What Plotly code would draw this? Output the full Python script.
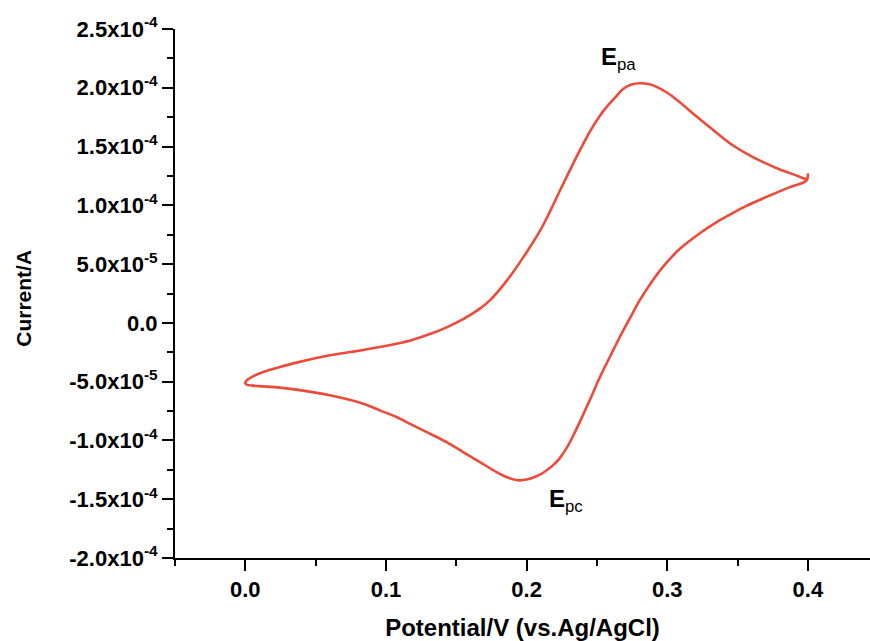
import plotly.graph_objects as go

# Potential (V vs Ag/AgCl): scan starts at 0.4 V, sweeps negative to 0 V, then back to 0.4 V
potential = [0.4000, 0.3991, 0.3872, 0.3730, 0.3564, 0.3445, 0.3349, 0.3232, 0.3090, 0.2971,
             0.2876, 0.2805, 0.2734, 0.2663, 0.2592, 0.2521, 0.2450, 0.2393, 0.2343, 0.2293,
             0.2236, 0.2189, 0.2118, 0.2071, 0.2000, 0.1938, 0.1857, 0.1786, 0.1668, 0.1549,
             0.1431, 0.1312, 0.1193, 0.1075, 0.0956, 0.0838, 0.0601, 0.0364, 0.0245, 0.0127,
             0.0055, 0.0009, 0.0000,
             0.0009, 0.0055, 0.0127, 0.0245, 0.0364, 0.0601, 0.0838, 0.1075, 0.1193, 0.1312,
             0.1431, 0.1549, 0.1668, 0.1739, 0.1857, 0.1975, 0.2094, 0.2165, 0.2213, 0.2284,
             0.2331, 0.2402, 0.2449, 0.2520, 0.2568, 0.2639, 0.2686, 0.2746, 0.2805, 0.2876,
             0.2924, 0.2995, 0.3042, 0.3090, 0.3209, 0.3327, 0.3445, 0.3564, 0.3682, 0.3801,
             0.3920, 0.3979, 0.4000]
# Current in units of 1e-5 A
current_e5 = [12.72, 12.12, 11.55, 10.84, 9.95, 9.20, 8.55, 7.62, 6.30, 4.78,
              3.25, 1.93, 0.38, -1.20, -2.90, -4.62, -6.55, -8.05, -9.32, -10.48,
              -11.50, -12.10, -12.75, -13.05, -13.33, -13.39, -13.11, -12.69, -11.84, -10.99,
              -10.14, -9.42, -8.72, -8.01, -7.44, -6.87, -6.16, -5.68, -5.51, -5.40,
              -5.34, -5.25, -5.12,
              -4.89, -4.55, -4.18, -3.76, -3.38, -2.76, -2.30, -1.77, -1.43, -0.95,
              -0.38, 0.32, 1.21, 1.91, 3.55, 5.55, 7.80, 9.45, 10.65, 12.40,
              13.55, 15.20, 16.25, 17.60, 18.35, 19.30, 19.90, 20.28, 20.39, 20.30,
              20.08, 19.62, 19.22, 18.77, 17.55, 16.40, 15.28, 14.40, 13.67, 13.05,
              12.54, 12.26, 12.30]
current = [v * 1e-5 for v in current_e5]

y_tick_vals = [2.5e-4, 2.0e-4, 1.5e-4, 1.0e-4, 5.0e-5, 0.0, -5.0e-5, -1.0e-4, -1.5e-4, -2.0e-4]
y_tick_text = ["2.5x10<sup>-4</sup>", "2.0x10<sup>-4</sup>", "1.5x10<sup>-4</sup>",
               "1.0x10<sup>-4</sup>", "5.0x10<sup>-5</sup>", "0.0", "-5.0x10<sup>-5</sup>",
               "-1.0x10<sup>-4</sup>", "-1.5x10<sup>-4</sup>", "-2.0x10<sup>-4</sup>"]
x_tick_vals = [0.0, 0.1, 0.2, 0.3, 0.4]
x_tick_text = ["0.0", "0.1", "0.2", "0.3", "0.4"]

FONT = "Liberation Sans, Arial, sans-serif"

fig = go.Figure()
fig.add_trace(go.Scatter(x=potential, y=current, mode="lines",
                         line=dict(color="#EE4A3A", width=2.6, shape="spline", smoothing=1.0),
                         showlegend=False, hoverinfo="skip"))

fig.update_layout(
    width=870, height=641,
    margin=dict(l=175, r=0, t=29, b=83),
    paper_bgcolor="white", plot_bgcolor="white",
    font=dict(family=FONT, color="black"),
    xaxis=dict(range=[-0.05, 0.4442], showline=True, linecolor="black", linewidth=2,
               showgrid=False, zeroline=False, ticks="outside", ticklen=11, tickwidth=2,
               tickcolor="black", tickvals=x_tick_vals, ticktext=x_tick_text,
               tickfont=dict(size=22, family=FONT, weight="bold"),
               minor=dict(dtick=0.05, tick0=-0.05, ticks="outside", ticklen=6, tickwidth=2,
                          tickcolor="black", showgrid=False),
               title=dict(text="<b>Potential/V (vs.Ag/AgCl)</b>", font=dict(size=24, family=FONT),
                          standoff=20)),
    yaxis=dict(range=[-2.0e-4, 2.5e-4], showline=True, linecolor="black", linewidth=2,
               showgrid=False, zeroline=False, ticks="outside", ticklen=11, tickwidth=2,
               tickcolor="black", tickvals=y_tick_vals, ticktext=y_tick_text,
               tickfont=dict(size=22, family=FONT, weight="bold"),
               minor=dict(dtick=2.5e-5, tick0=0, ticks="outside", ticklen=6, tickwidth=2,
                          tickcolor="black", showgrid=False)),
    annotations=[
        dict(x=0, y=0.49, xref="paper", yref="paper", text="<b>Current/A</b>",
             textangle=-90, showarrow=False, xanchor="center", yanchor="middle",
             xshift=-151, font=dict(size=21, family=FONT)),
        dict(x=0.2805, y=2.04e-4, xref="x", yref="y", text="<b>E</b><sub>pa</sub>",
             showarrow=False, xshift=-21, yshift=25, font=dict(size=24, family=FONT)),
        dict(x=0.1952, y=-1.34e-4, xref="x", yref="y", text="<b>E</b><sub>pc</sub>",
             showarrow=False, xshift=46, yshift=-20, font=dict(size=24, family=FONT)),
    ],
)

fig.write_html("out.html")
